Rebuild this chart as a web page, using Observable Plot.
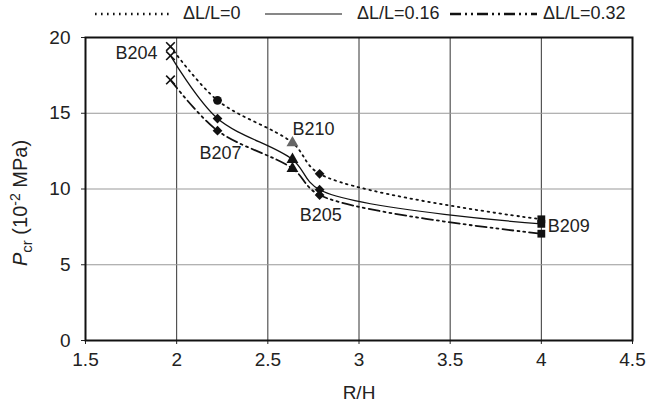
<!DOCTYPE html>
<html><head><meta charset="utf-8">
<script src="https://cdn.jsdelivr.net/npm/d3@7"></script>
<script src="https://cdn.jsdelivr.net/npm/@observablehq/plot@0.6"></script>
<style>
body{margin:0;background:#fff;font-family:"Liberation Sans",Arial,sans-serif;}
#legend{height:28px;position:relative;font-size:18px;color:#222;}
#legend svg{position:absolute;top:4px;display:block;}
#legend span{position:absolute;top:3px;line-height:20px;}
</style></head><body>
<div id="legend"></div><div id="chart"></div>
<script>
// ---- data ----
const specimens = ["B204", "B207", "B210", "B205", "B209"];
const rh = [1.966, 2.224, 2.635, 2.784, 4.0];
const p0 = [19.4, 15.85, 13.05, 11.0, 8.0];
const p16 = [18.8, 14.65, 11.95, 9.95, 7.7];
const p32 = [17.2, 13.85, 11.35, 9.6, 7.05];
const seriesNames = ["ΔL/L=0", "ΔL/L=0.16", "ΔL/L=0.32"];
const xTicks = [1.5, 2, 2.5, 3, 3.5, 4, 4.5];
const xTickLabels = ["1.5", "2", "2.5", "3", "3.5", "4", "4.5"];
const yTicks = [0, 5, 10, 15, 20];
const yTickLabels = ["0", "5", "10", "15", "20"];
// symbols per specimen and series
const symbols0 = ["times", "circle", "triangle", "diamond2", "square"];
const symbols16 = ["times", "diamond2", "triangle", "diamond2", "square"];
const symbols32 = ["times", "diamond2", "triangle", "diamond2", "square"];
const fills0 = ["#111", "#111", "#666", "#111", "#111"];
// specimen label anchors (data coords)
const labelRH = [1.895, 2.24, 2.75, 2.79, 4.035];
const labelP = [18.95, 12.35, 13.95, 8.3, 7.55];
const labelAnchor = ["end", "middle", "middle", "middle", "start"];

// ---- build tables ----
const values = [p0, p16, p32];
const symbolSets = [symbols0, symbols16, symbols32];
const points = [];
values.forEach((vals, i) => vals.forEach((v, j) => points.push({
  series: seriesNames[i], specimen: specimens[j], rh: rh[j], p: v,
  symbol: symbolSets[i][j], fill: i === 0 ? fills0[j] : "#111"
})));
const labels = specimens.map((s, j) => ({name: s, rh: labelRH[j], p: labelP[j], anchor: labelAnchor[j]}));
const dashes = ["1.6,4.4", null, "11,4,2,4,2,4"];

// ---- legend ----
const legend = d3.select("#legend");
const legendX = [95, 265, 450];
const legendW = [77, 77, 87];
const legendTextX = [183, 357, 543];
seriesNames.forEach((name, i) => {
  const s = legend.append("svg").style("left", legendX[i] + "px").attr("width", legendW[i]).attr("height", 20);
  const l = s.append("line").attr("x1", 0).attr("x2", legendW[i]).attr("y1", 10).attr("y2", 10)
    .attr("stroke", "#111").attr("stroke-width", i === 1 ? 1.2 : 2.4);
  if (dashes[i]) l.attr("stroke-dasharray", dashes[i]);
  legend.append("span").style("left", legendTextX[i] + "px").text(name);
});

// ---- chart ----
const textMarks = ["end", "middle", "start"].map(a => Plot.text(labels.filter(d => d.anchor === a), {
  x: "rh", y: "p", text: "name", textAnchor: a, fontSize: 18, fill: "#222"
}));
const chart = Plot.plot({
  width: 649, height: 380,
  marginTop: 9, marginLeft: 85, marginRight: 17, marginBottom: 68,
  style: {fontFamily: "'Liberation Sans', Arial, sans-serif", fontSize: "19px", color: "#222", background: "#fff"},
  x: {domain: [1.5, 4.5]},
  y: {domain: [0, 20]},
  symbol: {type: "identity"},
  marks: [
    Plot.gridX(xTicks, {stroke: "#333", strokeOpacity: 1, strokeWidth: 1}),
    Plot.gridY(yTicks, {stroke: "#999", strokeOpacity: 1, strokeWidth: 1}),
    Plot.axisX(xTicks, {tickSize: 4, tickPadding: 8, fontSize: 19, tickFormat: (d, i) => xTickLabels[i],
      label: "R/H", labelAnchor: "center", labelArrow: false, labelOffset: 58}),
    Plot.axisY(yTicks, {tickSize: 4, tickPadding: 11, fontSize: 19, tickFormat: (d, i) => yTickLabels[i], label: null}),
    ...seriesNames.map((name, i) => Plot.line(points.filter(d => d.series === name), {
      x: "rh", y: "p", curve: "catmull-rom", stroke: "#111",
      strokeWidth: i === 1 ? 1.3 : 1.8, strokeDasharray: dashes[i] || undefined
    })),
    Plot.dot(points.filter(d => d.symbol === "times"), {x: "rh", y: "p", symbol: "times", r: 4, stroke: "#111", strokeWidth: 1.6}),
    Plot.dot(points.filter(d => d.symbol !== "times"), {x: "rh", y: "p", symbol: "symbol", r: 4.4, fill: "fill", stroke: null}),
    ...textMarks,
    Plot.frame({stroke: "#111", strokeWidth: 2})
  ]
});
document.getElementById("chart").appendChild(chart);

// y axis label with subscript / superscript
const svg = d3.select(chart);
const t = svg.append("text")
  .attr("transform", "translate(27,175) rotate(-90)")
  .attr("text-anchor", "middle")
  .attr("font-size", 20).attr("fill", "#222")
  .attr("font-family", "'Liberation Sans', Arial, sans-serif");
t.append("tspan").attr("font-style", "italic").text("P");
t.append("tspan").attr("font-size", 15).attr("dy", 5).text("cr");
t.append("tspan").attr("dy", -5).text(" (10");
t.append("tspan").attr("font-size", 14).attr("dy", -7).text("-2");
t.append("tspan").attr("dy", 7).text(" MPa)");
</script>
</body></html>
